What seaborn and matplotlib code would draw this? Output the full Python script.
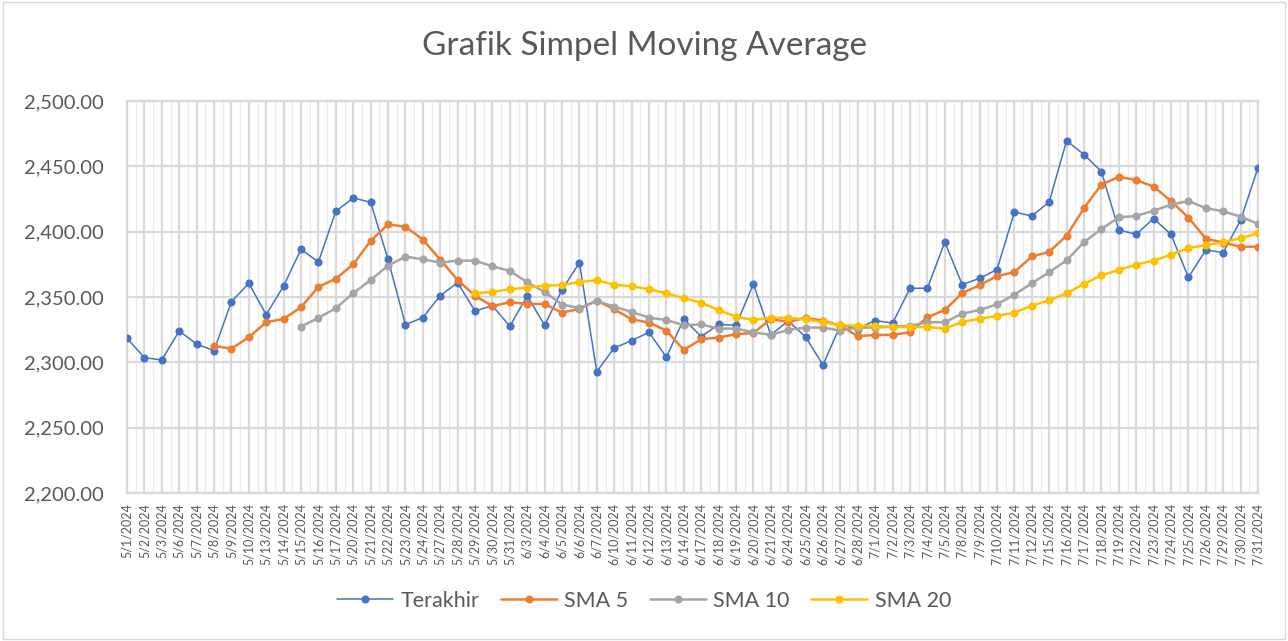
import numpy as np
import pandas as pd
import matplotlib.pyplot as plt
import matplotlib.ticker as mticker
import matplotlib.patches as mpatches
import seaborn as sns

# tanggal (hari bursa)
dates = ['5/1/2024', '5/2/2024', '5/3/2024', '5/6/2024', '5/7/2024', '5/8/2024', '5/9/2024',
         '5/10/2024', '5/13/2024', '5/14/2024', '5/15/2024', '5/16/2024', '5/17/2024',
         '5/20/2024', '5/21/2024', '5/22/2024', '5/23/2024', '5/24/2024', '5/27/2024',
         '5/28/2024', '5/29/2024', '5/30/2024', '5/31/2024', '6/3/2024', '6/4/2024',
         '6/5/2024', '6/6/2024', '6/7/2024', '6/10/2024', '6/11/2024', '6/12/2024',
         '6/13/2024', '6/14/2024', '6/17/2024', '6/18/2024', '6/19/2024', '6/20/2024',
         '6/21/2024', '6/24/2024', '6/25/2024', '6/26/2024', '6/27/2024', '6/28/2024',
         '7/1/2024', '7/2/2024', '7/3/2024', '7/4/2024', '7/5/2024', '7/8/2024', '7/9/2024',
         '7/10/2024', '7/11/2024', '7/12/2024', '7/15/2024', '7/16/2024', '7/17/2024',
         '7/18/2024', '7/19/2024', '7/22/2024', '7/23/2024', '7/24/2024', '7/25/2024',
         '7/26/2024', '7/29/2024', '7/30/2024', '7/31/2024']

terakhir = [2318.4, 2303.6, 2301.8, 2324.0, 2314.0, 2309.0, 2346.4, 2360.5, 2336.5, 2358.5,
            2386.5, 2376.8, 2415.6, 2425.8, 2422.5, 2378.9, 2328.9, 2334.2, 2351.0, 2361.0,
            2339.3, 2343.4, 2327.6, 2350.8, 2328.4, 2355.4, 2376.3, 2292.9, 2311.0, 2316.6,
            2323.0, 2303.9, 2333.2, 2319.7, 2329.0, 2328.4, 2360.0, 2321.0, 2331.7, 2319.4,
            2298.0, 2328.4, 2325.8, 2332.0, 2330.0, 2356.7, 2356.7, 2392.0, 2359.5, 2364.3,
            2371.0, 2415.0, 2412.0, 2422.7, 2469.6, 2459.0, 2446.0, 2401.3, 2398.0, 2410.0,
            2398.0, 2365.0, 2386.0, 2384.0, 2408.7, 2449.0]

sma5 = [None] * 5 + [
    2312.5, 2310.5, 2319.2, 2330.7, 2333.2,
    2342.2, 2357.7, 2364.0, 2375.0, 2392.9, 2405.6, 2403.8, 2394.0, 2378.6, 2363.0,
    2351.0, 2343.0, 2346.0, 2344.7, 2344.7, 2338.0, 2340.9, 2347.2, 2340.6, 2333.0,
    2330.4, 2324.3, 2309.5, 2317.7, 2319.0, 2321.5, 2322.5, 2333.0, 2331.0, 2334.0,
    2332.0, 2328.0, 2320.0, 2321.0, 2321.0, 2323.0, 2334.5, 2340.0, 2353.0, 2359.0,
    2366.0, 2369.0, 2381.0, 2384.5, 2397.0, 2418.0, 2436.0, 2442.0, 2439.5, 2434.5,
    2423.5, 2410.7, 2394.7, 2391.6, 2388.5, 2388.5]

sma10 = [None] * 10 + [
    2327.4, 2334.0, 2341.4, 2352.9, 2363.0, 2374.0, 2380.9, 2378.9, 2376.3, 2377.8,
    2377.8, 2373.5, 2370.0, 2361.3, 2353.9, 2344.2, 2341.6, 2347.0, 2342.6, 2338.6,
    2334.2, 2332.4, 2328.4, 2329.0, 2325.8, 2325.8, 2323.0, 2321.0, 2324.8, 2326.6,
    2326.6, 2324.3, 2326.6, 2326.6, 2327.4, 2327.9, 2330.7, 2330.7, 2337.3, 2340.0,
    2344.4, 2351.8, 2360.5, 2369.0, 2378.0, 2392.0, 2402.0, 2411.0, 2412.0, 2416.0,
    2420.7, 2423.5, 2418.0, 2415.6, 2411.5, 2406.0]

sma20 = [None] * 20 + [
    2352.9, 2353.9, 2355.9, 2357.2, 2358.7, 2359.2, 2361.5, 2362.8, 2359.5, 2358.2,
    2355.9, 2352.9, 2349.0, 2345.7, 2340.0, 2335.0, 2332.4, 2334.2, 2334.0, 2333.0,
    2330.7, 2328.4, 2327.9, 2327.9, 2327.0, 2327.0, 2327.0, 2325.8, 2330.9, 2333.4,
    2335.5, 2338.0, 2343.4, 2347.5, 2352.9, 2360.0, 2366.6, 2370.7, 2374.8, 2377.8,
    2382.4, 2387.5, 2389.6, 2392.0, 2395.0, 2398.8]

series_names = ['Terakhir', 'SMA 5', 'SMA 10', 'SMA 20']
colors = ['#4472C4', '#ED7D31', '#A5A5A5', '#FFC000']
widths = [1.1, 1.8, 1.8, 1.8]

df = pd.DataFrame({'pos': np.arange(len(dates)), 'Terakhir': terakhir,
                   'SMA 5': sma5, 'SMA 10': sma10, 'SMA 20': sma20}).astype(float)

sns.set_theme(style="white")
plt.rcParams['font.family'] = ['Lato', 'DejaVu Sans']

fig = plt.figure(figsize=(12.88, 6.41), dpi=100)
ax = fig.add_axes([127 / 1288, 1 - 493 / 641, 1131 / 1288, 392 / 641])

for name, c, lw in zip(series_names, colors, widths):
    sns.lineplot(data=df, x='pos', y=name, ax=ax, color=c, linewidth=lw,
                 marker='o', markersize=5.8, markeredgewidth=0, label=name, zorder=3)

ax.set_xlim(0, len(dates) - 1)
ax.set_ylim(2200, 2500)
ax.set_xticks(np.arange(len(dates)))
ax.set_xticklabels(dates, rotation=90, fontsize=9, color='#595959')
ax.set_xticks(np.arange(len(dates) - 1) + 0.5, minor=True)
ax.set_yticks(np.arange(2200, 2501, 50))
ax.yaxis.set_major_formatter(mticker.FuncFormatter(lambda v, p: f'{v:,.2f}'))
ax.tick_params(axis='y', labelsize=14.5, colors='#595959', length=0, pad=17)
ax.tick_params(axis='x', length=0, pad=7)
ax.tick_params(axis='x', which='minor', length=0)
ax.set_xlabel('')
ax.set_ylabel('')

ax.grid(True, which='major', color='#d9d9d9', linewidth=1.6)
ax.grid(True, which='minor', axis='x', color='#ececec', linewidth=1.0)
ax.set_axisbelow(True)
for s in ax.spines.values():
    s.set_color('#d9d9d9')
    s.set_linewidth(1.6)

fig.text(0.5, 1 - 46 / 641, 'Grafik Simpel Moving Average', ha='center', va='center',
         fontsize=24, color='#595959')

leg = ax.legend(loc='center', bbox_to_anchor=(0.5, (641 - 601) / 641), bbox_transform=fig.transFigure,
                ncol=4, frameon=False, fontsize=15.5, handlelength=2.6, columnspacing=1.0,
                handletextpad=0.35)
for t in leg.get_texts():
    t.set_color('#595959')

# bingkai area grafik
fig.patches.append(mpatches.Rectangle((0.002, 0.003), 0.996, 0.994, transform=fig.transFigure,
                                      fill=False, edgecolor='#d9d9d9', linewidth=1.0))

plt.savefig('out.png', dpi=100)
